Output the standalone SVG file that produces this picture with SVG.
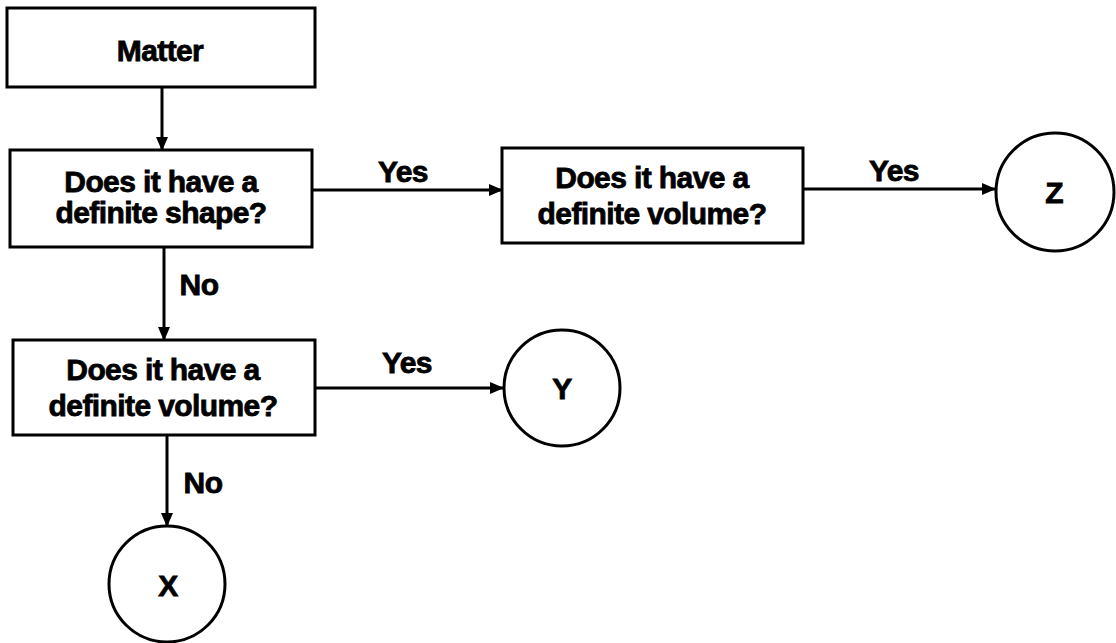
<svg xmlns="http://www.w3.org/2000/svg" width="1116" height="643" viewBox="0 0 1116 643">
<style>
.box{fill:#fff;stroke:#000;stroke-width:3}
.circ{fill:#fff;stroke:#000;stroke-width:3}
.t{font-family:"Liberation Sans",Arial,sans-serif;font-weight:bold;font-size:30px;letter-spacing:-0.6px;fill:#000;stroke:#000;stroke-width:0.8;text-anchor:middle}
.ln{stroke:#000;stroke-width:3;fill:none}
</style>
<defs>
<marker id="arr" markerWidth="14" markerHeight="12" refX="13" refY="6" orient="auto" markerUnits="userSpaceOnUse">
<path d="M0,0 L14,6 L0,12 Z" fill="#000"/>
</marker>
</defs>
<g id="connectors">
<line class="ln" x1="162" y1="87" x2="162" y2="150" marker-end="url(#arr)"/>
<line class="ln" x1="312" y1="190" x2="502" y2="190" marker-end="url(#arr)"/>
<line class="ln" x1="803" y1="189" x2="995" y2="189" marker-end="url(#arr)"/>
<line class="ln" x1="164" y1="247" x2="164" y2="340" marker-end="url(#arr)"/>
<line class="ln" x1="315" y1="388" x2="503" y2="388" marker-end="url(#arr)"/>
<line class="ln" x1="167" y1="435" x2="167" y2="526" marker-end="url(#arr)"/>
<text class="t" x="403" y="182">Yes</text>
<text class="t" x="894" y="181">Yes</text>
<text class="t" x="199" y="295">No</text>
<text class="t" x="407" y="373">Yes</text>
<text class="t" x="203" y="493">No</text>
</g>
<g id="matter">
<rect class="box" x="7" y="8" width="308" height="79"/>
<text class="t" x="160" y="61">Matter</text>
</g>
<g id="shape">
<rect class="box" x="10" y="150" width="302" height="97"/>
<text class="t" x="161" y="192">Does it have a</text>
<text class="t" x="161" y="223">definite shape?</text>
</g>
<g id="volume1">
<rect class="box" x="502" y="148" width="301" height="95"/>
<text class="t" x="652" y="188">Does it have a</text>
<text class="t" x="652" y="224">definite volume?</text>
</g>
<g id="volume2">
<rect class="box" x="13" y="340" width="302" height="95"/>
<text class="t" x="163" y="380">Does it have a</text>
<text class="t" x="163" y="416">definite volume?</text>
</g>
<g id="z">
<circle class="circ" cx="1055" cy="192" r="59"/>
<text class="t" x="1054" y="203">Z</text>
</g>
<g id="y">
<circle class="circ" cx="562" cy="388" r="58"/>
<text class="t" x="562" y="399">Y</text>
</g>
<g id="x">
<circle class="circ" cx="167" cy="584" r="58"/>
<text class="t" x="168" y="596">X</text>
</g>
</svg>
